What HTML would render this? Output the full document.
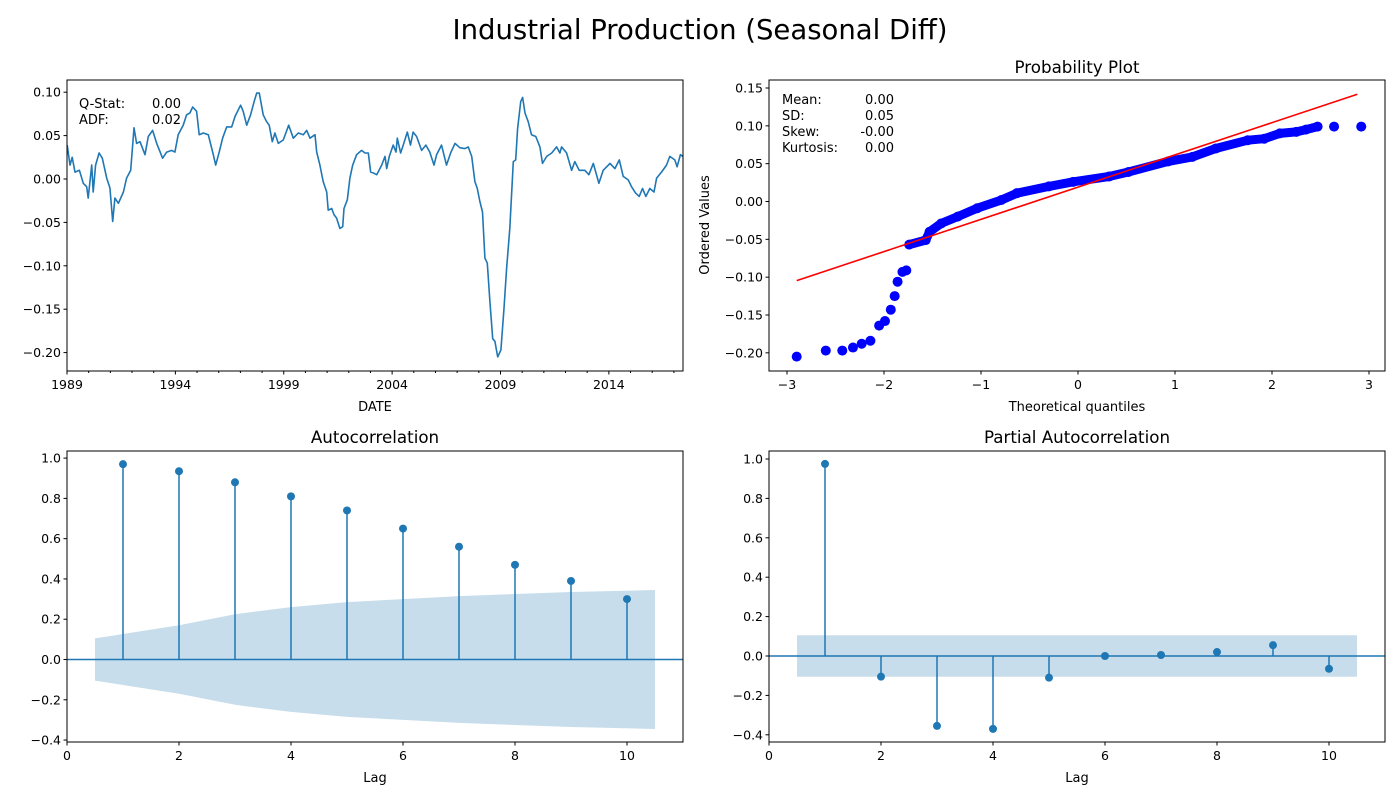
<!DOCTYPE html>
<html><head><meta charset="utf-8">
<style>
html,body{margin:0;padding:0;background:#fff;}
svg{display:block;font-family:"DejaVu Sans","Liberation Sans",sans-serif;}
</style></head>
<body>
<svg id="fig" width="1400" height="800" viewBox="0 0 1400 800" xmlns="http://www.w3.org/2000/svg">
<rect width="1400" height="800" fill="#fff"/>
<text x="700" y="39" font-size="27.5" text-anchor="middle" fill="#000">Industrial Production (Seasonal Diff)</text>
</svg>
<script>
// ---- Time series data (years since 1989, value) ----
const tsYears = [0.01,0.14,0.24,0.37,0.57,0.75,0.91,0.98,1.14,1.21,1.32,1.48,1.63,1.83,1.98,2.11,2.21,2.37,2.60,2.75,2.94,3.09,3.21,3.37,3.60,3.75,3.95,4.14,4.41,4.60,4.83,4.98,5.13,5.36,5.52,5.67,5.80,5.98,6.10,6.29,6.52,6.75,6.86,7.02,7.18,7.37,7.60,7.75,8.01,8.13,8.29,8.47,8.63,8.75,8.87,9.05,9.21,9.33,9.47,9.59,9.75,9.98,10.23,10.44,10.67,10.90,11.06,11.21,11.44,11.52,11.67,11.82,11.98,12.05,12.21,12.32,12.44,12.59,12.72,12.78,12.93,13.05,13.18,13.36,13.59,13.75,13.90,14.01,14.13,14.29,14.52,14.67,14.75,14.87,15.05,15.18,15.24,15.39,15.54,15.70,15.85,15.97,16.13,16.36,16.56,16.74,16.93,17.05,17.28,17.51,17.70,17.90,18.13,18.36,18.51,18.67,18.82,18.93,19.05,19.17,19.28,19.39,19.51,19.64,19.74,19.87,20.02,20.16,20.28,20.43,20.59,20.70,20.79,20.93,21.02,21.13,21.28,21.43,21.63,21.82,21.94,22.13,22.36,22.59,22.74,22.82,23.05,23.28,23.43,23.63,23.89,24.08,24.28,24.54,24.74,25.05,25.28,25.48,25.66,25.89,26.05,26.23,26.40,26.55,26.71,26.89,27.08,27.20,27.43,27.66,27.81,28.04,28.15,28.30,28.42];
const tsValues = [0.039,0.016,0.025,0.008,0.010,-0.005,-0.009,-0.022,0.016,-0.015,0.016,0.030,0.024,0.001,-0.010,-0.049,-0.022,-0.028,-0.015,0.001,0.010,0.059,0.041,0.043,0.028,0.049,0.056,0.041,0.024,0.031,0.033,0.031,0.051,0.062,0.074,0.076,0.083,0.078,0.051,0.053,0.051,0.028,0.016,0.031,0.047,0.060,0.060,0.072,0.085,0.078,0.062,0.074,0.089,0.099,0.099,0.074,0.066,0.062,0.043,0.053,0.041,0.045,0.062,0.047,0.053,0.051,0.056,0.047,0.051,0.031,0.016,-0.003,-0.015,-0.036,-0.034,-0.041,-0.045,-0.057,-0.055,-0.034,-0.024,0.001,0.016,0.028,0.033,0.030,0.030,0.008,0.007,0.005,0.016,0.026,0.012,0.026,0.039,0.031,0.047,0.030,0.041,0.054,0.039,0.054,0.049,0.033,0.039,0.031,0.016,0.028,0.039,0.016,0.030,0.041,0.036,0.035,0.037,0.026,-0.003,-0.011,-0.026,-0.038,-0.091,-0.097,-0.141,-0.184,-0.187,-0.205,-0.197,-0.149,-0.103,-0.057,0.020,0.022,0.058,0.089,0.094,0.076,0.066,0.051,0.049,0.037,0.018,0.026,0.030,0.037,0.030,0.037,0.030,0.010,0.020,0.010,0.010,0.005,0.018,-0.005,0.010,0.018,0.012,0.022,0.003,-0.001,-0.009,-0.016,-0.020,-0.011,-0.020,-0.011,-0.015,0.001,0.008,0.016,0.026,0.022,0.014,0.028,0.026];
const tsYTicks = [0.10,0.05,0.00,-0.05,-0.10,-0.15,-0.20];
const tsXTicks = [1989,1994,1999,2004,2009,2014];
const tsStatsLabels = ["Q-Stat:","ADF:"];
const tsStatsValues = ["0.00","0.02"];

// ---- Probability plot ----
const qqTheo = [-2.90,-2.60,-2.43,-2.32,-2.23,-2.14,-2.05,-1.99,-1.93,-1.89,-1.86,-1.81,-1.77];
const qqOrdered = [-0.205,-0.197,-0.197,-0.193,-0.188,-0.184,-0.164,-0.158,-0.143,-0.125,-0.106,-0.093,-0.091];
const qqDenseTheo = [-1.74,-1.57,-1.53,-1.41,-1.24,-1.04,-0.79,-0.63,-0.30,-0.05,0.32,0.52,0.93,1.18,1.42,1.75,1.92,2.08,2.25,2.35,2.47];
const qqDenseOrdered = [-0.057,-0.051,-0.040,-0.029,-0.020,-0.009,0.002,0.011,0.020,0.026,0.033,0.039,0.053,0.059,0.070,0.081,0.083,0.090,0.092,0.095,0.099];
const qqTailTheo = [2.64,2.92];
const qqTailOrdered = [0.099,0.099];
const qqFitSlope = 0.0426;
const qqFitIntercept = 0.019;
const qqFitRange = [-2.90,2.88];
const qqYTicks = [0.15,0.10,0.05,0.00,-0.05,-0.10,-0.15,-0.20];
const qqXTicks = [-3,-2,-1,0,1,2,3];
const qqStatsLabels = ["Mean:","SD:","Skew:","Kurtosis:"];
const qqStatsValues = ["0.00","0.05","-0.00","0.00"];

// ---- ACF ----
const acfLags = [1,2,3,4,5,6,7,8,9,10];
const acfValues = [0.97,0.935,0.88,0.81,0.74,0.65,0.56,0.47,0.39,0.30];
const acfConf = [0.105,0.17,0.225,0.26,0.285,0.30,0.315,0.325,0.335,0.345];
// ---- PACF ----
const pacfValues = [0.975,-0.105,-0.355,-0.37,-0.11,0.00,0.005,0.02,0.055,-0.065];
const pacfConf = [0.105,0.105,0.105,0.105,0.105,0.105,0.105,0.105,0.105,0.105];
const corrYTicks = [1.0,0.8,0.6,0.4,0.2,0.0,-0.2,-0.4];
const lagTicks = [0,2,4,6,8,10];

const NS="http://www.w3.org/2000/svg";
const fig=document.getElementById('fig');
function mk(tag,attrs,parent){const e=document.createElementNS(NS,tag);for(const k in attrs)e.setAttribute(k,attrs[k]);(parent||fig).appendChild(e);return e;}
function txt(s,attrs,parent){const e=mk('text',attrs,parent);e.textContent=s;return e;}
function lin(d0,d1,r0,r1){return v=>r0+(v-d0)*(r1-r0)/(d1-d0);}
const C="#1f77b4";

function axesBox(x0,y0,x1,y1,name){
  const g=mk('g',{});
  
  
  return g;
}
function frame(g,x0,y0,x1,y1){
  const r=mk('rect',{x:x0,y:y0,width:x1-x0,height:y1-y0,fill:'none',stroke:'#000','stroke-width':1},g);
  
  
}
function yTicks(g,ticks,sy,x0,fmt,name){
  ticks.forEach(t=>{
    const y=sy(t);
    mk('line',{x1:x0-3.5,x2:x0,y1:y,y2:y,stroke:'#000'},g);
    const e=txt(fmt(t),{x:x0-6,y:y+4.5,'font-size':12.5,'text-anchor':'end'},g);
    
    
  });
}
function xTicks(g,ticks,sx,y1,fmt,name){
  ticks.forEach(t=>{
    const x=sx(t);
    mk('line',{x1:x,x2:x,y1:y1,y2:y1+3.5,stroke:'#000'},g);
    const e=txt(fmt(t),{x:x,y:y1+18,'font-size':12.5,'text-anchor':'middle'},g);
    
    
  });
}
const f2=v=>(v<0?'−':'')+Math.abs(v).toFixed(2);
const f1=v=>(v<0?'−':'')+Math.abs(v).toFixed(1);
const fi=v=>(v<0?'−':'')+Math.abs(v);

// ===== Time series panel =====
(function(){
  const X0=67,X1=683,Y0=80,Y1=371;
  const g=axesBox(X0,Y0,X1,Y1,'time-series-panel');
  const sx=lin(1989,2017.42,X0,X1), sy=lin(0,0.10,179,92.2);
  for(let yr=1990;yr<=2017;yr++){ if(tsXTicks.indexOf(yr)<0){const x=sx(yr);mk('line',{x1:x,x2:x,y1:Y1,y2:Y1+2,stroke:'#000'},g);} }
  const pts=tsYears.map((t,i)=>sx(1989+t).toFixed(1)+','+sy(tsValues[i]).toFixed(1)).join(' ');
  const pl=mk('polyline',{points:pts,fill:'none',stroke:C,'stroke-width':1.6,'stroke-linejoin':'round'},g);
  
  
  frame(g,X0,Y0,X1,Y1);
  yTicks(g,tsYTicks,sy,X0,f2,'y-tick-label');
  xTicks(g,tsXTicks,sx,Y1,v=>String(v),'x-tick-label');
  const xl=txt('DATE',{x:375,y:411,'font-size':13,'text-anchor':'middle'},g);
  
  
  tsStatsLabels.forEach((s,i)=>{
    const a=txt(s,{x:79,y:108+i*16,'font-size':13},g);
    
    
    const b=txt(tsStatsValues[i],{x:181,y:108+i*16,'font-size':13,'text-anchor':'end'},g);
    
    
  });
})();

// ===== Probability plot =====
(function(){
  const X0=769,X1=1385,Y0=80,Y1=371;
  const g=axesBox(X0,Y0,X1,Y1,'probability-plot-panel');
  const sx=lin(0,1,1078,1175), sy=lin(0,0.15,201.5,88);
  const dense=qqDenseTheo.map((t,i)=>sx(t).toFixed(1)+','+sy(qqDenseOrdered[i]).toFixed(1)).join(' ');
  const band=mk('polyline',{points:dense,fill:'none',stroke:'#0000ff','stroke-width':9,'stroke-linecap':'round','stroke-linejoin':'round'},g);
  
  
  const allT=qqTheo.concat(qqDenseTheo,qqTailTheo), allV=qqOrdered.concat(qqDenseOrdered,qqTailOrdered);
  allT.forEach((t,i)=>{
    const c=mk('circle',{cx:sx(t),cy:sy(allV[i]),r:5,fill:'#0000ff'},g);
    
    
  });
  const fl=mk('line',{x1:sx(qqFitRange[0]),y1:sy(qqFitIntercept+qqFitSlope*qqFitRange[0]),x2:sx(qqFitRange[1]),y2:sy(qqFitIntercept+qqFitSlope*qqFitRange[1]),stroke:'#ff0000','stroke-width':1.6},g);
  
  
  frame(g,X0,Y0,X1,Y1);
  yTicks(g,qqYTicks,sy,X0,f2,'y-tick-label');
  xTicks(g,qqXTicks,sx,Y1,fi,'x-tick-label');
  const t=txt('Probability Plot',{x:1077,y:73,'font-size':16.7,'text-anchor':'middle'},g);
  
  
  const xl=txt('Theoretical quantiles',{x:1077,y:411,'font-size':13,'text-anchor':'middle'},g);
  
  
  const yl=txt('Ordered Values',{x:0,y:0,'font-size':13,'text-anchor':'middle',transform:'translate(709,225) rotate(-90)'},g);
  
  
  qqStatsLabels.forEach((s,i)=>{
    const a=txt(s,{x:782,y:104+i*16,'font-size':13},g);
    
    
    const b=txt(qqStatsValues[i],{x:894,y:104+i*16,'font-size':13,'text-anchor':'end'},g);
    
    
  });
})();

// ===== Correlation panels =====
function corrPanel(X0,X1,zeroY,unitPx,vals,conf,title,name){
  const Y0=451,Y1=742;
  const g=axesBox(X0,Y0,X1,Y1,name);
  const sx=lin(0,11,X0,X1), sy=v=>zeroY-v*unitPx;
  const xs=acfLags.slice(); xs[0]-=0.5; xs[xs.length-1]+=0.5;
  let d='M'+xs.map((x,i)=>sx(x).toFixed(1)+','+sy(conf[i]).toFixed(1)).join(' L');
  for(let i=xs.length-1;i>=0;i--) d+=' L'+sx(xs[i]).toFixed(1)+','+sy(-conf[i]).toFixed(1);
  const p=mk('path',{d:d+'Z',fill:C,'fill-opacity':0.25,stroke:'none'},g);
  
  
  const z=mk('line',{x1:X0,x2:X1,y1:sy(0),y2:sy(0),stroke:C,'stroke-width':1.5},g);
  
  
  acfLags.forEach((l,i)=>{
    const st=mk('line',{x1:sx(l),x2:sx(l),y1:sy(0),y2:sy(vals[i]),stroke:C,'stroke-width':1.5},g);
    
    
    const c=mk('circle',{cx:sx(l),cy:sy(vals[i]),r:4,fill:C},g);
    
    
  });
  frame(g,X0,Y0,X1,Y1);
  yTicks(g,corrYTicks,sy,X0,f1,'y-tick-label');
  xTicks(g,lagTicks,sx,Y1,fi,'x-tick-label');
  const t=txt(title,{x:(X0+X1)/2,y:443,'font-size':16.7,'text-anchor':'middle'},g);
  
  
  const xl=txt('Lag',{x:(X0+X1)/2,y:782,'font-size':13,'text-anchor':'middle'},g);
  
  
}
corrPanel(67,683,659.5,201.4,acfValues,acfConf,'Autocorrelation','acf-panel');
corrPanel(769,1385,656,197,pacfValues,pacfConf,'Partial Autocorrelation','pacf-panel');
</script>
</body></html>
